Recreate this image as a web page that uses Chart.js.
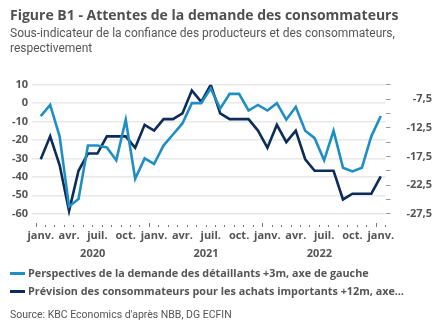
<!DOCTYPE html>
<html lang="fr">
<head>
<meta charset="utf-8">
<script src="https://cdn.jsdelivr.net/npm/chart.js@4/dist/chart.umd.min.js"></script>
<style>
    html, body { margin: 0; padding: 0; background: #fff; }
    body { width: 432px; height: 334px; position: relative; overflow: hidden; font-family: "Open Sans", sans-serif; color: #555; }
    #chart { position: absolute; left: 0; top: 0; }
    .title { position: absolute; left: 10px; top: 5px; font-size: 14px; font-weight: bold; color: #505050; white-space: nowrap; }
    .subtitle { position: absolute; left: 10px; top: 26px; font-size: 12px; line-height: 15px; font-family: Roboto, sans-serif; color: #555; width: 420px; }
    .legend { position: absolute; left: 10px; top: 264px; font-size: 10.8px; font-weight: bold; line-height: 18px; }
    .legend div { white-space: nowrap; }
    .legend span { display: inline-block; width: 15px; height: 3px; vertical-align: middle; margin-right: 3px; position: relative; top: -1px; }
    .source { position: absolute; left: 10px; top: 308px; font-size: 10.5px; font-family: Roboto, sans-serif; color: #555; }
</style>
</head>
<body>
<canvas id="chart" width="432" height="334"></canvas>
<div class="title">Figure B1 - Attentes de la demande des consommateurs</div>
<div class="subtitle">Sous-indicateur de la confiance des producteurs et des consommateurs, respectivement</div>
<div class="legend">
    <div><span style="background:#1f8fc3"></span>Perspectives de la demande des détaillants +3m, axe de gauche</div>
    <div><span style="background:#0c2c5a"></span>Prévision des consommateurs pour les achats importants +12m, axe…</div>
</div>
<div class="source">Source: KBC Economics d'après NBB, DG ECFIN</div>
<script>
// months jan 2020 .. jan 2023
const monthNames = ['janv.', 'févr.', 'mars', 'avr.', 'mai', 'juin', 'juil.', 'août', 'sept.', 'oct.', 'nov.', 'déc.'];
const years = ['2020', '2021', '2022'];
const months = [];
for (let i = 0; i < 37; i++) months.push(monthNames[i % 12]);

// retailers' demand outlook +3m (left axis)
const retailDemand = [-7, -1, -18, -56, -52, -23, -23, -24, -31, -9, -41, -30,
    -33, -23, -17, -11, 0, 0, 8, -3, 5, 5, -4, -1,
    -4, 0, -9, -2, -15, -19, -31, -15, -35, -37, -35, -18,
    -7];
// consumers' major purchases +12m (right axis)
const consumerPurchases = [-18, -14, -19, -27, -20, -17, -17, -14, -14, -14, -16, -12,
    -13, -11, -11, -10, -6, -8, -5, -10, -11, -11, -11, -13,
    -16, -12, -15, -13, -18, -20, -20, -20, -25, -24, -24, -24,
    -21];

const leftTicks = [10, 0, -10, -20, -30, -40, -50, -60];
const rightTicks = [-5, -7.5, -10, -12.5, -15, -17.5, -20, -22.5, -25, -27.5];
const rightLabelled = [-7.5, -12.5, -17.5, -22.5, -27.5];

const textColor = '#555';
const tickFont = { family: 'Open Sans', size: 11, weight: 'bold' };

new Chart(document.getElementById('chart'), {
    type: 'line',
    data: {
        labels: months,
        datasets: [{
            label: 'Perspectives de la demande des détaillants +3m, axe de gauche',
            data: retailDemand,
            borderColor: '#1f8fc3',
            borderWidth: 2.6,
            pointRadius: 0,
            yAxisID: 'y'
        }, {
            label: 'Prévision des consommateurs pour les achats importants +12m, axe de droite',
            data: consumerPurchases,
            borderColor: '#0c2c5a',
            borderWidth: 2.6,
            pointRadius: 0,
            yAxisID: 'y2'
        }]
    },
    options: {
        responsive: false,
        animation: false,
        layout: { padding: { top: 84.7, bottom: 69.5, left: 0, right: 0 } },
        plugins: { legend: { display: false }, tooltip: { enabled: false } },
        scales: {
            x: {
                offset: true,
                border: { display: false },
                grid: {
                    offset: true,
                    drawOnChartArea: false,
                    tickLength: 4,
                    tickColor: '#777',
                    tickWidth: 1,
                    // short ticks for months, full ones at year boundaries
                    tickBorderDash: ctx => (ctx.index % 12 === 0 ? [] : [0, 2, 2, 50])
                },
                ticks: {
                    autoSkip: false,
                    maxRotation: 0,
                    padding: 2,
                    color: textColor,
                    font: tickFont,
                    callback: (v, i) => (i % 3 === 0 ? months[i] : '')
                },
                afterFit: s => { s.height = 24.5; }
            },
            xYear: {
                type: 'linear',
                position: 'bottom',
                min: -0.5,
                max: 36.5,
                border: { display: false },
                grid: { display: false, drawTicks: false },
                afterBuildTicks: s => { s.ticks = years.map((y, i) => ({ value: 5.5 + 12 * i })); },
                ticks: {
                    padding: 0,
                    color: textColor,
                    font: tickFont,
                    callback: (v) => years[Math.round((v - 5.5) / 12)]
                },
                afterFit: s => { s.height = 17; }
            },
            y: {
                position: 'left',
                min: -65,
                max: 10,
                border: { display: false },
                grid: { color: '#e8e8e8', lineWidth: 1.5, tickLength: 4 },
                afterBuildTicks: s => { s.ticks = leftTicks.map(v => ({ value: v })); },
                ticks: { autoSkip: false, padding: 4, color: textColor, font: tickFont },
                afterFit: s => { s.width = 36; }
            },
            y2: {
                position: 'right',
                min: -5 - 75 * 22.5 / 70,
                max: -5,
                border: { display: false },
                grid: { drawOnChartArea: false, tickLength: 5, tickColor: '#999' },
                afterBuildTicks: s => { s.ticks = rightTicks.map(v => ({ value: v })); },
                ticks: {
                    autoSkip: false,
                    padding: 4,
                    crossAlign: 'far',
                    color: textColor,
                    font: tickFont,
                    callback: v => (rightLabelled.includes(v) ? v.toFixed(1).replace('.', ',') : '')
                },
                afterFit: s => { s.width = 46.5; }
            }
        }
    }
});
</script>
</body>
</html>
